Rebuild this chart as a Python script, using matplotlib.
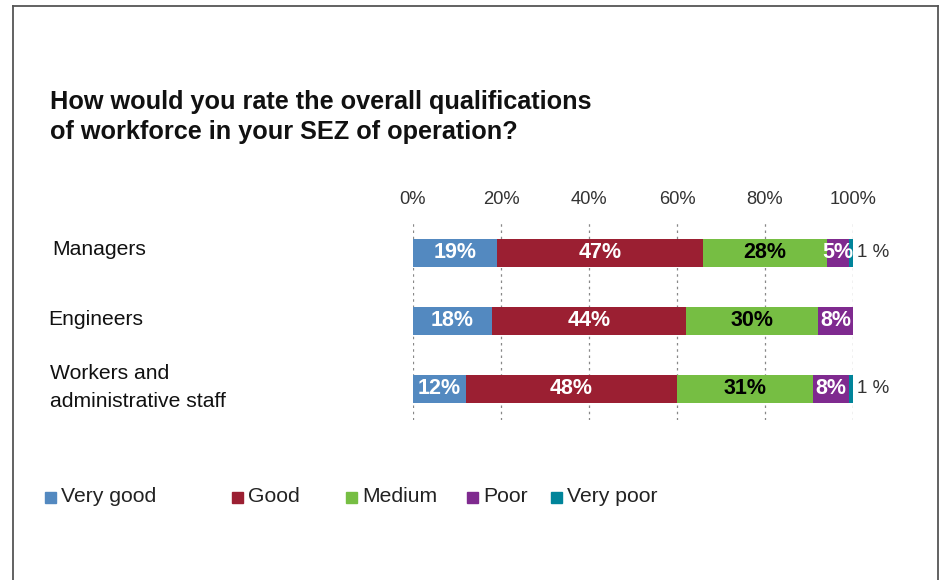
import matplotlib.pyplot as plt
from matplotlib.lines import Line2D
from matplotlib.patches import Rectangle

# survey shares per group, in percent
groups = ['Managers', 'Engineers', 'Workers and\nadministrative staff']
ratings = ['Very good', 'Good', 'Medium', 'Poor', 'Very poor']
very_good = [19, 18, 12]
good = [47, 44, 48]
medium = [28, 30, 31]
poor = [5, 8, 8]
very_poor = [1, 0, 1]
ticks = [0, 20, 40, 60, 80, 100]

series = [very_good, good, medium, poor, very_poor]
colors = ['#5389c0', '#9b1f32', '#76be43', '#7f2a8f', '#00849a']
label_colors = ['white', 'white', 'black', 'white', None]

plt.rcParams['font.family'] = ['Liberation Sans', 'DejaVu Sans']

W, H = 943, 580
fig = plt.figure(figsize=(W / 100, H / 100), dpi=100)


def fx(px):
    return px / W


def fy(py):
    return 1 - py / H


# outer frame (open at the bottom)
frame = dict(color='#555555', lw=1.3, transform=fig.transFigure)
fig.add_artist(Line2D([fx(13), fx(13)], [fy(6), 0], **frame))
fig.add_artist(Line2D([fx(13), fx(938)], [fy(6), fy(6)], **frame))
fig.add_artist(Line2D([fx(938), fx(938)], [fy(6), 0], **frame))

fig.text(fx(50), fy(117), 'How would you rate the overall qualifications\nof workforce in your SEZ of operation?',
         fontsize=18.2, fontweight='bold', va='center', ha='left', linespacing=1.3, color='#111111')

ax = fig.add_axes([fx(413), fy(420), fx(853) - fx(413), (420 - 220) / H])
ypos = list(range(len(groups)))

left = [0] * len(groups)
for vals, col, lcol in zip(series, colors, label_colors):
    ax.barh(ypos, vals, left=left, height=0.4, color=col, zorder=2)
    for i, v in enumerate(vals):
        if lcol is not None and v > 0:
            ax.text(left[i] + v / 2, ypos[i], f'{v}%', color=lcol, fontsize=15.5,
                    fontweight='bold', ha='center', va='center', zorder=3)
    left = [a + b for a, b in zip(left, vals)]

# tiny "Very poor" shares are labelled outside the bar
for i, v in enumerate(very_poor):
    if v > 0:
        ax.text(101.0, ypos[i], f'{v} %', color='#333333', fontsize=13.5,
                ha='left', va='center')

ax.set_xlim(0, 100)
ax.set_ylim(2.456, -0.485)
ax.set_xticks(ticks)
ax.set_xticklabels([f'{t}%' for t in ticks], fontsize=13.2, color='#333333')
ax.xaxis.tick_top()
ax.tick_params(axis='x', length=0, pad=9)
ax.set_yticks([])
for x in ticks:
    ax.axvline(x, color='#888888', lw=0.9, ls=(0, (2, 3)), zorder=1)
for s in ax.spines.values():
    s.set_visible(False)

# group names on the left
label_x = [52, 48, 50]
label_dy = [-3, -1, -1.5]
for i, g in enumerate(groups):
    yy = ax.transData.transform((0, ypos[i]))[1] / H
    fig.text(fx(label_x[i]), yy - label_dy[i] / H, g, fontsize=15.2, color='#111111',
             ha='left', va='center', linespacing=1.55)

# legend
legend_x = [45, 232, 346, 467, 551]
for name, col, x in zip(ratings, colors, legend_x):
    fig.add_artist(Rectangle((fx(x), fy(503)), fx(11), 11 / H, color=col,
                             transform=fig.transFigure))
    fig.text(fx(x + 16), fy(496), name, fontsize=15.2, color='#222222', ha='left', va='center')

fig.savefig('out.png', dpi=100)
